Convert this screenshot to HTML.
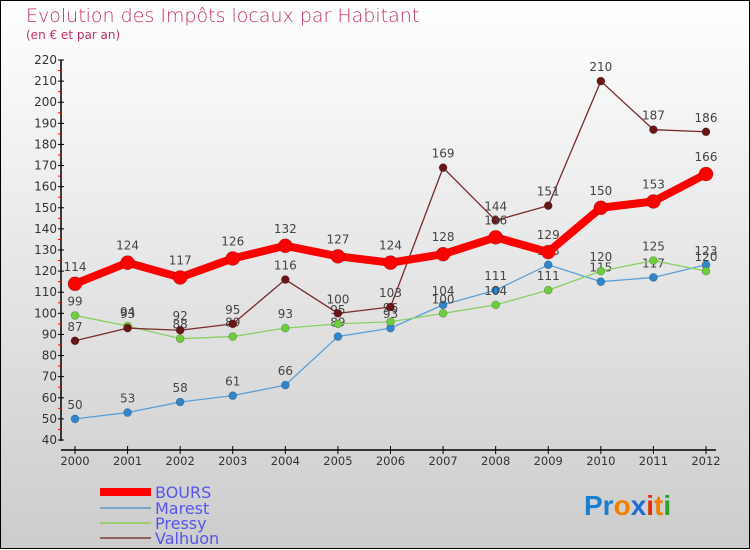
<!DOCTYPE html>
<html><head><meta charset="utf-8"><style>
body{margin:0;}
svg{display:block;font-family:"DejaVu Sans","Liberation Sans",sans-serif;}
</style></head><body>
<svg id="chart" width="750" height="550" xmlns="http://www.w3.org/2000/svg">
<defs><linearGradient id="bg" x1="0" y1="0" x2="0" y2="1"><stop offset="0" stop-color="#ffffff"/><stop offset="1" stop-color="#cccccc"/></linearGradient></defs>
<rect x="0.5" y="0.5" width="749" height="548" fill="url(#bg)" stroke="#000"/>
<text x="26" y="22" font-size="19" fill="#c0306a" font-weight="300">Evolution des Impôts locaux par Habitant</text>
<text x="26" y="39" font-size="12" fill="#c0306a">(en € et par an)</text>
<g id="axes"></g><g id="series"></g>
<g font-size="16" fill="#5555ee">
<rect x="100" y="488" width="51" height="8" fill="#f00"/><text x="155" y="498">BOURS</text>
<line x1="100" y1="508" x2="151" y2="508" stroke="#7aa6c8" stroke-width="2"/><text x="155" y="514">Marest</text>
<line x1="100" y1="523" x2="151" y2="523" stroke="#9ccc70" stroke-width="2"/><text x="155" y="529">Pressy</text>
<line x1="100" y1="538" x2="151" y2="538" stroke="#906060" stroke-width="2"/><text x="155" y="544">Valhuon</text>
</g>
<g font-size="28" font-weight="bold" font-family="Liberation Sans,sans-serif">
<text x="584" y="515"><tspan fill="#1a7fd0">Pr</tspan><tspan fill="#f08000">o</tspan><tspan fill="#1a6fd0">x</tspan><tspan fill="#e03010">i</tspan><tspan fill="#f08000">t</tspan><tspan fill="#30a030">i</tspan></text>
</g>
</svg>
<script>
const years=["2000","2001","2002","2003","2004","2005","2006","2007","2008","2009","2010","2011","2012"];
const bours=[114,124,117,126,132,127,124,128,136,129,150,153,166];
const marest=[50,53,58,61,66,89,93,104,111,123,115,117,123];
const pressy=[99,94,88,89,93,95,96,100,104,111,120,125,120];
const valhuon=[87,93,92,95,116,100,103,169,144,151,210,187,186];
const yTicks=[40,50,60,70,80,90,100,110,120,130,140,150,160,170,180,190,200,210,220];
const NS="http://www.w3.org/2000/svg";
const X=i=>75+i*(706-75)/12;
const Y=v=>440-(v-40)*380/180;
function mk(t,a,p){const e=document.createElementNS(NS,t);for(const k in a)e.setAttribute(k,a[k]);p.appendChild(e);return e;}
const ax=document.getElementById('axes');
let e=mk('line',{x1:61,y1:60,x2:61,y2:441,stroke:'#000','stroke-width':1.5},ax);


e=mk('line',{x1:61,y1:450,x2:716,y2:450,stroke:'#000','stroke-width':1.5},ax);


yTicks.forEach(v=>{
 mk('line',{x1:58,y1:Y(v),x2:64,y2:Y(v),stroke:'#000'},ax);
 if(v<220)mk('line',{x1:58,y1:Y(v+5),x2:61,y2:Y(v+5),stroke:'#f00'},ax);
 const t=mk('text',{x:57,y:Y(v)+4,'text-anchor':'end','font-size':12,fill:'#333'},ax);t.textContent=v;
 
 
});
years.forEach((y,i)=>{
 mk('line',{x1:X(i),y1:446,x2:X(i),y2:454,stroke:'#000'},ax);
 const t=mk('text',{x:X(i),y:465,'text-anchor':'middle','font-size':11.5,fill:'#333'},ax);t.textContent=y;
 
 
});
const sg=document.getElementById('series');
function draw(name,data,color,w,r,fill){
 const g=mk('g',{},sg);
 
 
 mk('polyline',{points:data.map((v,i)=>X(i)+','+Y(v)).join(' '),fill:'none',stroke:color,'stroke-width':w,'stroke-linejoin':'round'},g);
 data.forEach((v,i)=>{
  const c=mk('circle',{cx:X(i),cy:Y(v),r:r,fill:fill,stroke:'rgba(0,0,0,0.3)','stroke-width':0.6},g);
  
  
  const t=mk('text',{x:X(i),y:Y(v)-r-6,'text-anchor':'middle','font-size':12,fill:'#444'},g);t.textContent=v;
 });
}
draw('marest',marest,'#5aa0d8',1.3,4,'#2f86cc');
draw('pressy',pressy,'#88d060',1.3,4,'#6cce3c');
draw('valhuon',valhuon,'#7a2a2a',1.3,4,'#6a1616');
draw('bours',bours,'#f00',8,7,'#f00');
</script>
</body></html>
